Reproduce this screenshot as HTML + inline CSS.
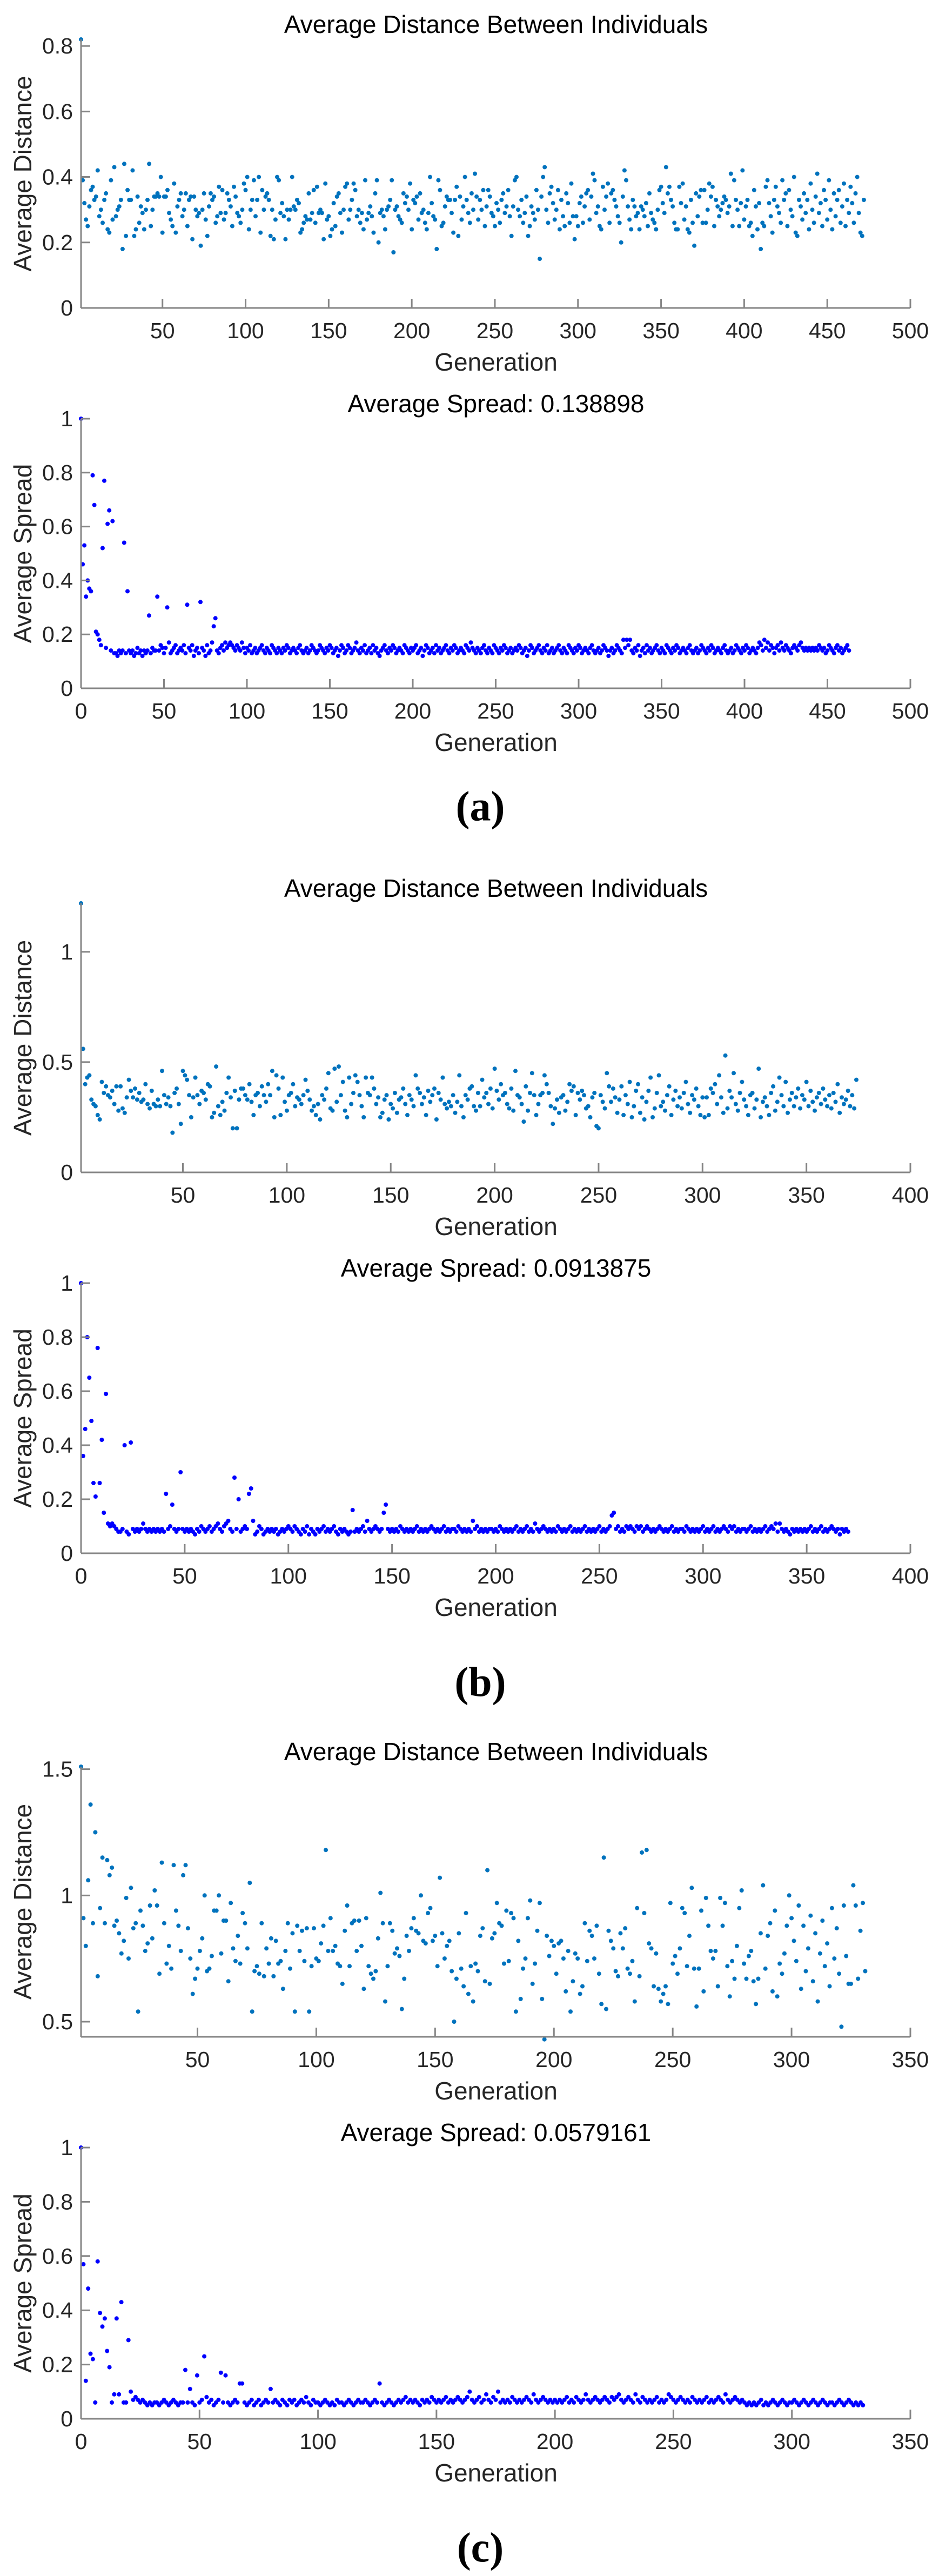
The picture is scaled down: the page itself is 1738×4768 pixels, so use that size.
<!DOCTYPE html>
<html><head><meta charset="utf-8"><style>
html,body{margin:0;padding:0;background:#fff;}
svg{display:block;}
text{font-family:"Liberation Sans",Arial,sans-serif;}
</style></head><body>
<svg id="fig" xmlns="http://www.w3.org/2000/svg" width="1738" height="4768" viewBox="0 0 1738 4768"></svg>
<script>
const aTopVals=[.82,.39,.32,.27,.25,.31,.36,.37,.33,.34,.42,.28,.30,.26,.33,.35,.24,.23,.39,.27,
.43,.28,.30,.31,.33,.18,.44,.22,.36,.33,.33,.42,.22,.24,.34,.26,.31,.29,.24,.30,
.33,.44,.25,.30,.34,.34,.35,.34,.40,.23,.34,.34,.36,.29,.27,.25,.38,.23,.31,.33,
.35,.28,.30,.35,.25,.33,.34,.21,.34,.30,.28,.29,.19,.30,.35,.27,.22,.31,.35,.33,
.34,.26,.28,.37,.29,.36,.27,.29,.35,.33,.31,.25,.37,.34,.29,.28,.26,.30,.38,.36,
.40,.24,.30,.33,.39,.28,.33,.40,.23,.36,.30,.34,.35,.33,.22,.30,.21,.27,.40,.39,
.29,.32,.28,.21,.30,.27,.30,.40,.31,.30,.33,.32,.23,.24,.26,.28,.27,.35,.27,.29,
.36,.26,.37,.29,.30,.29,.21,.38,.27,.28,.22,.24,.32,.25,.34,.35,.29,.23,.30,.37,
.38,.27,.30,.33,.38,.36,.28,.30,.26,.29,.24,.39,.27,.29,.31,.28,.23,.35,.39,.20,
.29,.30,.28,.24,.30,.31,.33,.39,.17,.30,.31,.28,.27,.26,.35,.32,.34,.30,.38,.24,
.33,.32,.34,.27,.35,.29,.30,.26,.24,.29,.40,.32,.28,.27,.18,.39,.36,.25,.26,.31,
.34,.33,.33,.29,.23,.33,.37,.22,.34,.27,.31,.40,.33,.29,.26,.35,.30,.41,.34,.27,
.33,.30,.36,.25,.31,.36,.34,.29,.28,.25,.32,.30,.26,.33,.35,.29,.31,.36,.28,.22,
.31,.39,.40,.30,.28,.33,.26,.29,.34,.22,.25,.31,.29,.27,.36,.30,.15,.34,.40,.43,
.30,.26,.35,.37,.32,.27,.30,.36,.24,.33,.28,.25,.35,.32,.26,.38,.28,.21,.28,.25,
.32,.34,.26,.31,.35,.36,.27,.34,.41,.39,.29,.31,.25,.24,.37,.30,.34,.38,.26,.35,
.36,.33,.31,.28,.26,.20,.34,.42,.39,.31,.27,.24,.33,.31,.28,.29,.24,.31,.30,.28,
.32,.25,.35,.29,.27,.26,.24,.30,.36,.37,.32,.29,.43,.35,.37,.33,.31,.26,.24,.24,
.37,.32,.38,.27,.31,.24,.23,.33,.26,.19,.35,.28,.34,.36,.26,.36,.26,.30,.38,.34,
.37,.25,.33,.31,.28,.30,.32,.34,.33,.29,.31,.41,.25,.39,.33,.30,.25,.32,.42,.27,
.31,.33,.25,.26,.22,.36,.31,.24,.32,.18,.26,.25,.37,.39,.32,.28,.23,.33,.37,.31,
.29,.26,.39,.33,.35,.25,.36,.30,.28,.40,.23,.22,.33,.31,.27,.35,.29,.33,.24,.38,
.30,.26,.34,.41,.29,.32,.25,.36,.33,.27,.39,.30,.24,.35,.28,.33,.36,.26,.31,.38,
.25,.33,.29,.37,.32,.26,.35,.40,.29,.23,.22,.33];
const aBotVals=[1.0,.46,.53,.34,.40,.37,.36,.79,.68,.21,.20,.18,.16,.52,.77,.15,.61,.66,.14,.62,
.13,.13,.12,.14,.13,.14,.54,.13,.36,.14,.13,.14,.12,.13,.15,.13,.14,.12,.14,.13,
.14,.27,.13,.15,.14,.14,.34,.14,.16,.15,.13,.15,.30,.17,.13,.14,.15,.16,.13,.14,
.15,.14,.16,.13,.31,.15,.14,.16,.12,.14,.15,.13,.32,.15,.14,.12,.16,.13,.14,.17,
.23,.26,.14,.13,.15,.16,.14,.17,.15,.16,.17,.16,.15,.14,.16,.15,.14,.17,.15,.13,
.15,.14,.16,.13,.14,.15,.13,.14,.15,.16,.14,.13,.15,.14,.13,.16,.15,.14,.13,.15,
.14,.13,.15,.14,.16,.15,.13,.14,.15,.14,.13,.15,.16,.14,.13,.14,.15,.13,.14,.16,
.15,.14,.13,.14,.16,.15,.14,.13,.15,.14,.16,.15,.13,.14,.15,.12,.14,.16,.15,.13,
.14,.16,.15,.13,.14,.15,.17,.14,.13,.15,.14,.16,.13,.14,.15,.13,.16,.14,.15,.13,
.12,.14,.15,.16,.14,.13,.15,.14,.16,.15,.13,.14,.15,.14,.13,.16,.15,.14,.13,.15,
.14,.15,.16,.13,.14,.15,.12,.14,.16,.15,.13,.14,.15,.13,.16,.14,.15,.13,.14,.15,
.16,.14,.13,.15,.14,.16,.15,.13,.14,.15,.14,.13,.16,.15,.14,.17,.15,.14,.13,.15,
.14,.13,.15,.16,.14,.13,.15,.14,.13,.16,.15,.14,.13,.15,.14,.16,.15,.13,.14,.15,
.13,.14,.15,.14,.16,.15,.13,.14,.15,.12,.14,.16,.15,.13,.14,.15,.16,.14,.13,.15,
.14,.16,.13,.14,.15,.13,.14,.15,.16,.14,.13,.15,.14,.13,.16,.15,.14,.13,.15,.14,
.16,.15,.13,.14,.15,.14,.13,.15,.16,.14,.13,.14,.15,.13,.14,.16,.15,.14,.12,.14,
.15,.13,.14,.16,.15,.14,.13,.18,.15,.18,.16,.18,.14,.13,.15,.14,.16,.12,.14,.15,
.13,.16,.14,.15,.13,.14,.15,.16,.14,.13,.15,.14,.13,.16,.15,.14,.13,.15,.14,.16,
.15,.13,.14,.15,.14,.13,.15,.16,.14,.13,.14,.15,.13,.14,.16,.15,.14,.13,.15,.14,
.16,.15,.13,.14,.15,.14,.13,.15,.16,.14,.13,.14,.15,.13,.14,.16,.15,.14,.13,.15,
.14,.16,.15,.13,.14,.15,.14,.13,.15,.17,.16,.14,.18,.15,.17,.14,.16,.15,.13,.15,
.16,.14,.17,.15,.14,.16,.15,.14,.13,.15,.16,.15,.14,.16,.17,.15,.14,.15,.14,.15,
.14,.15,.14,.15,.14,.16,.15,.14,.15,.13,.14,.16,.15,.14,.13,.15,.16,.14,.15,.13,
.14,.15,.16,.14];
const bTopVals=[1.22,.56,.40,.43,.44,.33,.31,.30,.26,.24,.41,.36,.39,.35,.34,.37,.31,.39,.28,.39,
.29,.27,.34,.42,.37,.34,.38,.33,.36,.32,.33,.40,.31,.29,.37,.31,.30,.33,.30,.46,
.35,.31,.34,.30,.18,.36,.38,.31,.22,.46,.44,.42,.35,.25,.34,.43,.35,.31,.37,.36,
.33,.40,.39,.25,.27,.48,.30,.26,.32,.28,.36,.43,.34,.20,.37,.20,.33,.38,.38,.35,
.33,.40,.32,.26,.35,.36,.30,.39,.35,.32,.40,.35,.46,.25,.44,.38,.26,.43,.32,.28,
.35,.36,.40,.30,.34,.33,.31,.35,.42,.37,.33,.28,.30,.26,.31,.24,.35,.33,.38,.45,
.29,.28,.47,.32,.48,.35,.41,.28,.25,.43,.31,.36,.44,.41,.35,.30,.25,.43,.36,.35,
.43,.38,.31,.34,.25,.27,.33,.35,.24,.31,.29,.36,.27,.33,.34,.38,.31,.26,.35,.33,
.30,.44,.38,.36,.31,.34,.26,.37,.32,.35,.38,.24,.36,.33,.43,.31,.29,.32,.30,.35,
.27,.32,.44,.30,.25,.35,.33,.38,.39,.30,.28,.36,.30,.42,.34,.36,.31,.38,.29,.47,
.37,.33,.40,.35,.36,.31,.29,.38,.28,.46,.35,.34,.31,.23,.39,.28,.36,.45,.35,.26,
.31,.35,.36,.44,.40,.36,.30,.22,.29,.33,.27,.34,.35,.28,.32,.40,.37,.39,.26,.36,
.33,.37,.35,.29,.30,.25,.34,.36,.21,.20,.35,.32,.29,.45,.39,.32,.38,.34,.27,.33,
.39,.26,.35,.31,.41,.25,.30,.37,.40,.27,.34,.24,.32,.37,.43,.25,.29,.36,.44,.30,
.32,.28,.35,.39,.26,.33,.37,.30,.34,.29,.36,.41,.31,.27,.35,.33,.38,.30,.26,.34,
.25,.34,.26,.38,.36,.40,.31,.44,.34,.27,.53,.29,.37,.34,.45,.31,.28,.36,.41,.33,
.30,.26,.35,.36,.29,.33,.47,.25,.32,.34,.30,.26,.36,.39,.28,.32,.43,.35,.30,.41,
.27,.33,.36,.30,.34,.38,.29,.35,.33,.41,.30,.37,.32,.28,.34,.36,.31,.38,.33,.30,
.35,.29,.36,.32,.40,.27,.34,.31,.33,.37,.30,.35,.29,.42];
const bBotVals=[1.0,.36,.46,.80,.65,.49,.26,.21,.76,.26,.42,.15,.59,.11,.10,.11,.10,.09,.08,.08,
.09,.40,.08,.07,.41,.09,.08,.09,.08,.09,.11,.09,.08,.09,.08,.09,.08,.09,.08,.09,
.08,.22,.09,.10,.18,.09,.08,.09,.30,.09,.08,.09,.08,.09,.08,.07,.09,.08,.10,.09,
.08,.09,.10,.08,.09,.10,.11,.09,.08,.10,.11,.12,.09,.08,.28,.09,.20,.08,.09,.10,
.09,.22,.24,.12,.07,.08,.10,.09,.07,.08,.09,.08,.09,.08,.09,.07,.08,.09,.08,.09,
.10,.09,.08,.10,.09,.08,.07,.09,.08,.10,.07,.09,.08,.07,.09,.08,.09,.10,.08,.09,
.08,.09,.10,.08,.07,.09,.08,.09,.08,.07,.08,.16,.08,.09,.08,.09,.10,.08,.12,.09,
.08,.09,.10,.09,.08,.09,.15,.18,.09,.08,.09,.08,.09,.08,.10,.09,.08,.09,.08,.09,
.08,.09,.10,.08,.09,.08,.09,.08,.09,.10,.09,.08,.09,.08,.09,.10,.08,.09,.08,.09,
.09,.08,.10,.09,.08,.09,.08,.09,.08,.12,.09,.10,.08,.09,.08,.09,.08,.09,.09,.08,
.09,.08,.10,.09,.08,.09,.08,.09,.08,.09,.10,.08,.09,.08,.09,.10,.08,.09,.08,.11,
.09,.08,.09,.10,.09,.08,.09,.08,.09,.08,.10,.09,.08,.09,.08,.09,.10,.08,.09,.08,
.09,.08,.09,.10,.08,.09,.08,.09,.08,.09,.10,.08,.09,.08,.09,.10,.14,.15,.09,.10,
.08,.09,.08,.10,.09,.10,.09,.08,.10,.09,.10,.08,.09,.10,.09,.08,.09,.08,.09,.10,
.09,.08,.09,.08,.09,.10,.08,.09,.08,.09,.09,.08,.10,.09,.08,.09,.08,.09,.08,.09,
.10,.08,.09,.08,.09,.10,.08,.09,.08,.09,.10,.09,.08,.10,.09,.10,.08,.09,.08,.09,
.09,.08,.09,.10,.08,.09,.08,.09,.08,.09,.10,.08,.09,.10,.09,.11,.08,.11,.09,.08,
.09,.08,.07,.09,.08,.09,.08,.09,.08,.09,.08,.09,.10,.08,.09,.08,.09,.10,.08,.09,
.08,.09,.10,.09,.08,.09,.07,.09,.08,.09,.08];
const cTopVals=[1.51,.91,.80,1.06,1.36,.89,1.25,.68,.95,1.15,.89,1.14,1.08,1.11,.88,.90,.85,.77,.82,.99,
.75,1.03,.87,.89,.54,.94,.88,.78,.81,.96,.83,1.02,.96,.69,1.13,.89,.73,.80,.71,1.12,
.94,.88,.78,1.08,1.12,.87,.75,.61,.67,.71,.78,.83,1.00,.70,.71,.76,.94,.94,1.00,.77,
.90,.90,.66,.97,.79,.74,.84,.73,.93,.89,.79,1.05,.54,.70,.72,.69,.89,.68,.79,.73,
.83,.68,.82,.73,.74,.63,.78,.89,.71,.85,.54,.88,.78,.86,.74,.87,.54,.72,.87,.75,
.74,.81,.88,1.18,.78,.91,.78,.80,.73,.72,.65,.86,.96,.72,.89,.90,.78,.90,.80,.63,
.91,.72,.69,.67,.70,.83,1.01,.89,.58,.72,.89,.86,.77,.79,.76,.55,.67,.84,.78,.87,
.91,.86,.85,1.00,.82,.81,.93,.95,.82,.84,.72,1.07,.85,.75,.80,.82,.70,.50,.67,.85,
.71,.64,.93,.61,.72,.58,.73,.70,.84,.87,.66,1.10,.65,.83,.85,.97,.89,.88,.73,.94,
.74,.93,.91,.54,.82,.59,.71,.75,.91,.98,.65,.73,.86,.97,.59,.43,.84,.76,.82,.80,
.69,.81,.82,.75,.62,.78,.54,.66,.77,.75,.61,.64,.89,.74,.86,.84,.75,.88,.69,.57,
1.15,.55,.86,.82,.79,.70,.68,.85,.79,.87,.71,.69,.74,.58,.95,.68,1.17,.93,1.18,.81,
.79,.64,.77,.63,.58,.61,.64,.57,.97,.73,.76,.69,.79,.95,.93,.72,.84,1.03,.71,.56,
.71,.94,.62,.99,.88,.78,.75,.78,.64,.99,.88,.97,.72,.60,.74,.67,.80,.95,1.02,.73,
.67,.76,.78,.66,.57,.67,.85,1.04,.71,.84,.89,.62,.94,.60,.73,.69,.77,.88,1.00,.91,
.82,.74,.96,.63,.88,.70,.79,.92,.66,.85,.58,.77,.90,.72,.81,.64,.95,.75,.87,.69,
.48,.96,.76,.65,.65,1.04,.96,.67,.86,.97,.70];
const cBotVals=[1.0,.57,.14,.48,.24,.22,.06,.58,.39,.34,.37,.25,.19,.06,.09,.37,.09,.43,.06,.06,
.29,.10,.07,.08,.07,.06,.07,.06,.05,.06,.05,.06,.06,.05,.06,.07,.06,.05,.06,.07,
.06,.05,.06,.06,.18,.06,.11,.06,.05,.16,.06,.07,.23,.08,.06,.07,.05,.06,.07,.17,
.06,.16,.06,.05,.06,.07,.06,.13,.13,.06,.05,.06,.07,.05,.06,.07,.05,.06,.07,.06,
.11,.06,.07,.06,.05,.07,.06,.05,.07,.06,.07,.05,.06,.07,.06,.08,.06,.05,.07,.06,
.06,.05,.06,.07,.06,.05,.06,.05,.07,.06,.06,.05,.06,.07,.06,.05,.06,.07,.06,.06,
.07,.06,.05,.06,.07,.06,.13,.06,.05,.06,.07,.06,.05,.06,.07,.06,.07,.08,.06,.07,
.06,.07,.06,.05,.07,.06,.07,.06,.08,.07,.06,.07,.06,.07,.08,.06,.07,.06,.07,.08,
.07,.06,.07,.08,.10,.07,.06,.07,.08,.06,.07,.09,.07,.06,.08,.07,.10,.06,.07,.06,
.07,.06,.08,.07,.06,.07,.06,.07,.08,.07,.06,.09,.07,.06,.07,.08,.07,.06,.07,.06,
.07,.06,.07,.06,.07,.08,.06,.07,.06,.08,.07,.06,.07,.09,.07,.06,.07,.08,.07,.06,
.07,.08,.07,.06,.08,.07,.08,.09,.07,.06,.07,.08,.07,.06,.09,.07,.06,.08,.07,.06,
.07,.06,.07,.08,.06,.07,.06,.07,.09,.08,.07,.06,.07,.08,.07,.06,.07,.06,.08,.07,
.06,.07,.06,.07,.08,.06,.07,.06,.07,.08,.07,.06,.09,.07,.06,.07,.08,.07,.06,.07,
.06,.05,.06,.05,.06,.05,.06,.07,.05,.06,.05,.06,.07,.06,.05,.06,.07,.06,.05,.06,
.06,.07,.06,.05,.06,.07,.06,.05,.06,.07,.06,.05,.06,.07,.06,.05,.06,.06,.05,.06,
.07,.06,.05,.06,.07,.06,.05,.06,.05,.06,.05];

const xTicks500=[50,100,150,200,250,300,350,400,450,500];
const xTicks500b=[0,50,100,150,200,250,300,350,400,450,500];
const xTicks400=[50,100,150,200,250,300,350,400];
const xTicks400b=[0,50,100,150,200,250,300,350,400];
const xTicks350=[50,100,150,200,250,300,350];
const xTicks350b=[0,50,100,150,200,250,300,350];
const yTicksATop=[0,0.2,0.4,0.6,0.8];
const yTicksATopLabels=["0","0.2","0.4","0.6","0.8"];
const yTicksBTop=[0,0.5,1];
const yTicksBTopLabels=["0","0.5","1"];
const yTicksCTop=[0.5,1,1.5];
const yTicksCTopLabels=["0.5","1","1.5"];
const yTicksSpread=[0,0.2,0.4,0.6,0.8,1];
const yTicksSpreadLabels=["0","0.2","0.4","0.6","0.8","1"];

const NS="http://www.w3.org/2000/svg";
const svg=document.getElementById('fig');
function mk(tag,attrs,parent){const e=document.createElementNS(NS,tag);for(const k in attrs)e.setAttribute(k,attrs[k]);(parent||svg).appendChild(e);return e;}

function panel(cfg){
  const g=mk('g',{});
  
  
  const L=150,R=1685;
  const sx=v=>L+(v-cfg.xlim[0])/(cfg.xlim[1]-cfg.xlim[0])*(R-L);
  const sy=v=>cfg.pyMin+(v-cfg.ylim[0])/(cfg.ylim[1]-cfg.ylim[0])*(cfg.pyMax-cfg.pyMin);
  const B=cfg.pyMin,T=cfg.pyMax;
  const t=mk('text',{x:918,y:T-28,'text-anchor':'middle','dominant-baseline':'central','font-size':46,fill:'#000'},g);
  t.textContent=cfg.title;
  
  
  const pg=mk('g',{fill:cfg.color},g);
  
  
  cfg.vals.forEach((v,i)=>{
    const gen=cfg.start+i;
    const c=mk('circle',{cx:sx(gen).toFixed(1),cy:sy(v).toFixed(1),r:4},pg);
    
    
  });
  const ax=mk('g',{stroke:'#858585','stroke-width':3,fill:'none'},g);
  
  
  mk('line',{x1:L,y1:B,x2:R,y2:B},ax);
  mk('line',{x1:L,y1:B,x2:L,y2:T},ax);
  cfg.xticks.forEach(v=>{
    mk('line',{x1:sx(v),y1:B,x2:sx(v),y2:B-17},ax);
    const tl=mk('text',{x:sx(v),y:B+42,'text-anchor':'middle','dominant-baseline':'central','font-size':41,fill:'#262626'},g);
    tl.textContent=String(v);
    
    
  });
  cfg.yticks.forEach((v,i)=>{
    mk('line',{x1:L,y1:sy(v),x2:L+17,y2:sy(v)},ax);
    const tl=mk('text',{x:135,y:sy(v),'text-anchor':'end','dominant-baseline':'central','font-size':41,fill:'#262626'},g);
    tl.textContent=cfg.ylabels[i];
    
    
  });
  const xl=mk('text',{x:918,y:B+100,'text-anchor':'middle','dominant-baseline':'central','font-size':46,fill:'#262626'},g);
  xl.textContent='Generation';
  
  
  const cy=(B+T)/2;
  const yl=mk('text',{x:42,y:cy,'text-anchor':'middle','dominant-baseline':'central','font-size':46,fill:'#262626',transform:`rotate(-90 42 ${cy})`},g);
  yl.textContent=cfg.ylabel;
  
  
}

panel({name:'panel-a-distance',title:'Average Distance Between Individuals',ylabel:'Average Distance',vals:aTopVals,start:1,xlim:[1,500],ylim:[0,0.82],pyMin:570,pyMax:73,xticks:xTicks500,yticks:yTicksATop,ylabels:yTicksATopLabels,color:'#0072BD'});
panel({name:'panel-a-spread',title:'Average Spread: 0.138898',ylabel:'Average Spread',vals:aBotVals,start:0,xlim:[0,500],ylim:[0,1],pyMin:1274,pyMax:775,xticks:xTicks500b,yticks:yTicksSpread,ylabels:yTicksSpreadLabels,color:'#0000FF'});
panel({name:'panel-b-distance',title:'Average Distance Between Individuals',ylabel:'Average Distance',vals:bTopVals,start:1,xlim:[1,400],ylim:[0,1.22],pyMin:2170,pyMax:1672,xticks:xTicks400,yticks:yTicksBTop,ylabels:yTicksBTopLabels,color:'#0072BD'});
panel({name:'panel-b-spread',title:'Average Spread: 0.0913875',ylabel:'Average Spread',vals:bBotVals,start:0,xlim:[0,400],ylim:[0,1],pyMin:2875,pyMax:2375,xticks:xTicks400b,yticks:yTicksSpread,ylabels:yTicksSpreadLabels,color:'#0000FF'});
panel({name:'panel-c-distance',title:'Average Distance Between Individuals',ylabel:'Average Distance',vals:cTopVals,start:1,xlim:[1,350],ylim:[0.44,1.51],pyMin:3770,pyMax:3270,xticks:xTicks350,yticks:yTicksCTop,ylabels:yTicksCTopLabels,color:'#0072BD'});
panel({name:'panel-c-spread',title:'Average Spread: 0.0579161',ylabel:'Average Spread',vals:cBotVals,start:0,xlim:[0,350],ylim:[0,1],pyMin:4477,pyMax:3975,xticks:xTicks350b,yticks:yTicksSpread,ylabels:yTicksSpreadLabels,color:'#0000FF'});

const labels=[['(a)',1492],['(b)',3113],['(c)',4715]];
labels.forEach(([s,y])=>{
  const t=mk('text',{x:889,y:y,'text-anchor':'middle','dominant-baseline':'central','font-size':78,'font-weight':'bold',fill:'#000',style:'font-family:"Liberation Serif",serif'});
  t.textContent=s;
  
  
});
</script>
</body></html>
